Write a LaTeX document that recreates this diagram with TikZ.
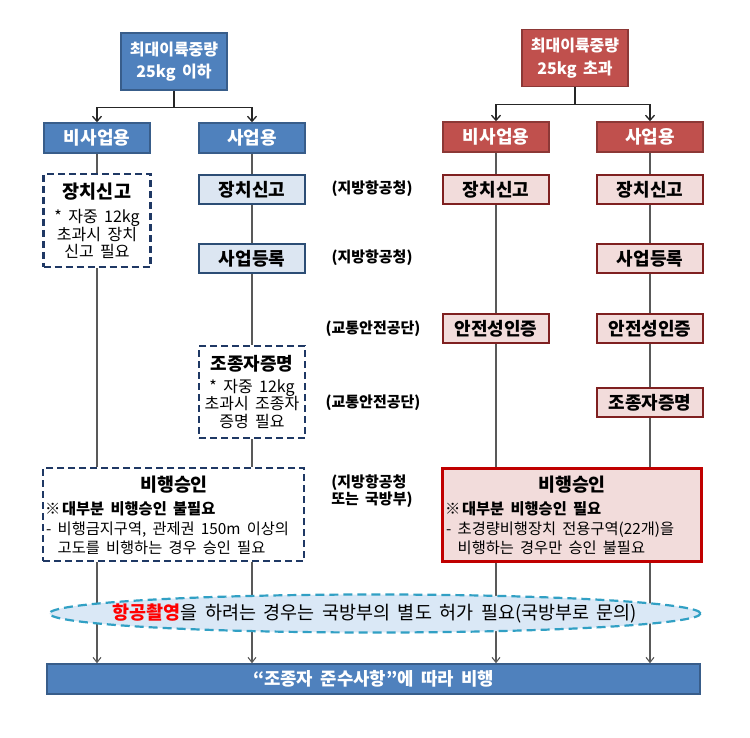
\documentclass[tikz,border=0pt]{standalone}
\usepackage{fontspec}
\setmainfont[WordSpace=1.8]{Noto Sans CJK KR}
\usetikzlibrary{arrows.meta,shapes.geometric}
\definecolor{bfill}{HTML}{4F81BD}
\definecolor{bline}{HTML}{385D8A}
\definecolor{rfill}{HTML}{C0504D}
\definecolor{rline}{HTML}{8C3836}
\definecolor{lbfill}{HTML}{DCE6F2}
\definecolor{lbline}{HTML}{2C4D75}
\definecolor{lrfill}{HTML}{F2DCDB}
\definecolor{lrline}{HTML}{7F2020}
\definecolor{navy}{HTML}{1F3864}
\definecolor{appred}{HTML}{C00000}
\definecolor{elfill}{HTML}{DAE8F6}
\definecolor{elline}{HTML}{31A0C4}
\definecolor{conn}{HTML}{595959}
\begin{document}
\begin{tikzpicture}[x=1pt,y=-1pt,
  bluebox/.style={draw=bline,fill=bfill,line width=1.6pt,text=white,inner sep=0pt,
    font=\bfseries\fontsize{18}{20}\selectfont,minimum width=106,minimum height=30},
  redbox/.style={bluebox,draw=rline,fill=rfill},
  topbox/.style={bluebox,minimum height=57,align=center,font=\bfseries\fontsize{16}{22.5}\selectfont},
  lightblue/.style={draw=lbline,fill=lbfill,line width=2.2pt,inner sep=0pt,
    font=\bfseries\fontsize{18}{20}\selectfont,minimum width=106,minimum height=29},
  lightred/.style={lightblue,draw=lrline,fill=lrfill},
  dashbox/.style={draw=navy,line width=2.2pt,dash pattern=on 7pt off 4pt,inner sep=0pt,
    align=center,font=\fontsize{16}{17.5}\selectfont},
  redapp/.style={draw=appred,fill=lrfill,line width=2.6pt,inner sep=0pt},
  lbl/.style={font=\bfseries\fontsize{15}{17}\selectfont,inner sep=0pt},
  txt/.style={font=\fontsize{15.3}{17}\selectfont,inner sep=0pt,anchor=west},
  subt/.style={font=\bfseries\fontsize{15.3}{17}\selectfont,inner sep=0pt,anchor=west},
  tit/.style={font=\bfseries\fontsize{18.4}{20}\selectfont,inner sep=0pt},
  topline/.style={draw=black!85,line width=1.3pt,-{Straight Barb[length=5pt,width=9pt]}},
  vline/.style={draw=conn,line width=1.1pt},
  varr/.style={vline,-{Straight Barb[length=5pt,width=8pt]}}
]
\useasboundingbox (0,0) rectangle (750,738);
\fill[white] (0,0) rectangle (750,738);

% top boxes
\node[topbox] (tb) at (174,61.5) {최대이륙중량\\25kg 이하};
\node[topbox,draw=rline,fill=rfill] (tr) at (575,58) {최대이륙중량\\25kg 초과};

% second row
\node[bluebox] (nb) at (97,138) {비사업용};
\node[bluebox] (cb) at (252,138) {사업용};
\node[redbox] (nr) at (496,137) {비사업용};
\node[redbox] (cr) at (650,137) {사업용};

\draw[topline] (tb.south) -- ++(0,17) coordinate (tbj) -| (nb.north);
\draw[topline] (tbj) -| (cb.north);
\draw[topline] (tr.south) -- ++(0,17) coordinate (trj) -| (nr.north);
\draw[topline] (trj) -| (cr.north);

% left column (non-commercial, <=25kg)
\node[dashbox,minimum width=107,minimum height=93] (dl1) at (97,220.5)
  {{\bfseries\fontsize{18.5}{20}\selectfont 장치신고}\\[7pt]* 자중 12kg\\초과시 장치\\신고 필요};
% commercial <=25kg
\node[lightblue] (cb1) at (252,189.5) {장치신고};
\node[lightblue] (cb2) at (252,258.5) {사업등록};
\node[dashbox,minimum width=106,minimum height=92] (cb3) at (252,392)
  {{\bfseries\fontsize{18}{20}\selectfont 조종자증명}\\[4pt]* 자중 12kg\\초과시 조종자\\증명 필요};
% red columns
\node[lightred] (nr1) at (496,189.5) {장치신고};
\node[lightred] (nr2) at (496,328.5) {안전성인증};
\node[lightred] (cr1) at (650,189.5) {장치신고};
\node[lightred] (cr2) at (650,258.5) {사업등록};
\node[lightred] (cr3) at (650,328.5) {안전성인증};
\node[lightred] (cr4) at (650,402.5) {조종자증명};

% approval boxes
\node[dashbox,minimum width=261,minimum height=93] (al) at (173.5,514.5) {};
\node[redapp,minimum width=259,minimum height=93] (ar) at (572,515) {};
\node[tit] (alt) at (174,485) {비행승인};
\node[subt] (als) at (45,509) {※\hspace{1.5pt}대부분 비행승인 불필요};
\node[txt] (al1) at (46,530) {- 비행금지구역, 관제권 150m 이상의};
\node[txt] (al2) at (46,548) {\phantom{- }고도를 비행하는 경우 승인 필요};
\node[tit] (art) at (572,485) {비행승인};
\node[subt] (ars) at (445,509) {※\hspace{1.5pt}대부분 비행승인 필요};
\node[txt] (ar1) at (446,530) {- 초경량비행장치 전용구역(22개)을};
\node[txt] (ar2) at (446,548) {\phantom{- }비행하는 경우만 승인 불필요};

% authority labels
\node[lbl] (l1) at (372,189) {(지방항공청)};
\node[lbl] (l2) at (372,258) {(지방항공청)};
\node[lbl] (l3) at (373,329) {(교통안전공단)};
\node[lbl] (l4) at (373,403) {(교통안전공단)};
\node[lbl,align=left] (l5) at (372,491) {(지방항공청\\또는 국방부)};

% bottom bar
\node[draw=bline,fill=bfill,line width=1.6pt,text=white,inner sep=0pt,
  font=\bfseries\fontsize{17.8}{20}\selectfont,minimum width=653,minimum height=30] (bar) at (373.5,679)
  {“조종자 준수사항”에 따라 비행};

% vertical connectors
\draw[vline] (nb.south) -- (dl1.north);
\draw[vline] (dl1.south) -- (al.north -| dl1);
\draw[vline] (cb.south) -- (cb1.north);
\draw[vline] (cb1.south) -- (cb2.north);
\draw[vline] (cb2.south) -- (cb3.north);
\draw[vline] (cb3.south) -- (al.north -| cb3);
\draw[vline] (nr.south) -- (nr1.north);
\draw[vline] (nr1.south) -- (nr2.north);
\draw[vline] (nr2.south) -- (ar.north -| nr2);
\draw[vline] (cr.south) -- (cr1.north);
\draw[vline] (cr1.south) -- (cr2.north);
\draw[vline] (cr2.south) -- (cr3.north);
\draw[vline] (cr3.south) -- (cr4.north);
\draw[vline] (cr4.south) -- (ar.north -| cr4);
\draw[varr] (al.south -| dl1) -- (bar.north -| dl1);
\draw[varr] (al.south -| cb3) -- (bar.north -| cb3);
\draw[varr] (ar.south -| nr2) -- (bar.north -| nr2);
\draw[varr] (ar.south -| cr4) -- (bar.north -| cr4);

% ellipse note (drawn over the connectors)
\node[ellipse,draw=elline,fill=elfill,line width=2.2pt,dash pattern=on 9pt off 5pt,inner sep=0pt,
  minimum width=651,minimum height=38] (el) at (375,613.5) {};
\node[inner sep=0pt,font=\fontsize{18.5}{20}\selectfont] (elt) at (el.center)
  {{\color{red}\bfseries 항공촬영}을 하려는 경우는 국방부의 별도 허가 필요(국방부로 문의)};
\end{tikzpicture}
\end{document}
